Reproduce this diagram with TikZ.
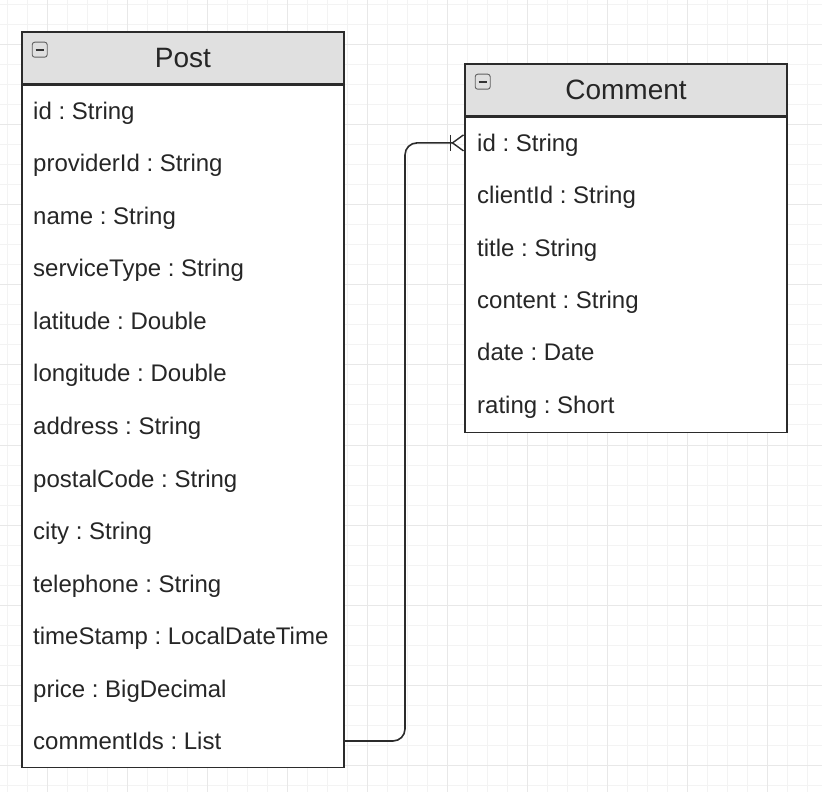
\documentclass[tikz,border=0pt]{standalone}
\usepackage{fontspec}
\setmainfont{Liberation Sans}
\usetikzlibrary{calc,arrows.meta}
\definecolor{headgray}{HTML}{E0E0E0}
\definecolor{linedark}{HTML}{2B2B2B}
\definecolor{gridminor}{HTML}{F3F3F3}
\definecolor{gridmajor}{HTML}{E8E8E8}
\frenchspacing

\begin{document}
\begin{tikzpicture}[x=1pt,y=-1pt,
    classhead/.style={draw=linedark,line width=1.6pt,fill=headgray,minimum width=322pt,minimum height=52pt,inner sep=0,text=black!85,font=\fontsize{28}{32}\selectfont},
    classbody/.style={draw=linedark,line width=1.6pt,fill=white,minimum width=322pt,anchor=north,inner sep=0},
    field/.style={anchor=west,inner sep=0,text height=17pt,text depth=0pt,text=black!85,font=\fontsize{24}{28}\selectfont},
    relation/.style={draw=linedark,line width=1.6pt,rounded corners=12pt,-{Bar[width=16pt,line width=1.4pt]Straight Barb[reversed,length=11pt,width=16pt,line width=1.4pt]}}]
    \newcommand{\minusicon}[1]{
        \draw[gray!75!black,fill=gray!25,rounded corners=2.5pt,line width=.9pt]($(#1.north west)+(11,11)$)rectangle++(15,15);
        \draw[black!80,line width=1.8pt]($(#1.north west)+(14.5,18.5)$)--++(8,0);}
    \useasboundingbox(0,0)rectangle(822,799);
    \fill[white](0,0)rectangle(822,799);
    % grid
    \foreach \gx in {7,27,...,807} \draw[gridminor,line width=1pt](\gx,0)--(\gx,792);
    \foreach \gy in {5,25,...,785} \draw[gridminor,line width=1pt](0,\gy)--(822,\gy);
    \foreach \gx in {47,127,...,807} \draw[gridmajor,line width=1pt](\gx,0)--(\gx,792);
    \foreach \gy in {45,125,...,785} \draw[gridmajor,line width=1pt](0,\gy)--(822,\gy);
    % Post
    \node[classhead](post)at(183,58){Post};
    \node[classbody,minimum height=682pt](postbody)at(post.south){};
    \minusicon{post}
    \foreach \f [count=\i] in {id : String,providerId : String,name : String,serviceType : String,latitude : Double,longitude : Double,address : String,postalCode : String,city : String,telephone : String,timeStamp : LocalDateTime,price : BigDecimal,commentIds : List}
        \node[field](post-\i)at(33,{58.5+52.5*\i}){\f};
    % Comment
    \node[classhead](comment)at(626,90){Comment};
    \node[classbody,minimum height=315pt](commentbody)at(comment.south){};
    \minusicon{comment}
    \foreach \f [count=\i] in {id : String,clientId : String,title : String,content : String,date : Date,rating : Short}
        \node[field](comment-\i)at(477,{90.5+52.4*\i}){\f};
    % post.commentIds -> comment.id
    \coordinate(bend)at(405,0);
    \draw[relation](post-13 -| postbody.east)-|(bend |- comment-1)--(commentbody.west |- comment-1);
\end{tikzpicture}
\end{document}
